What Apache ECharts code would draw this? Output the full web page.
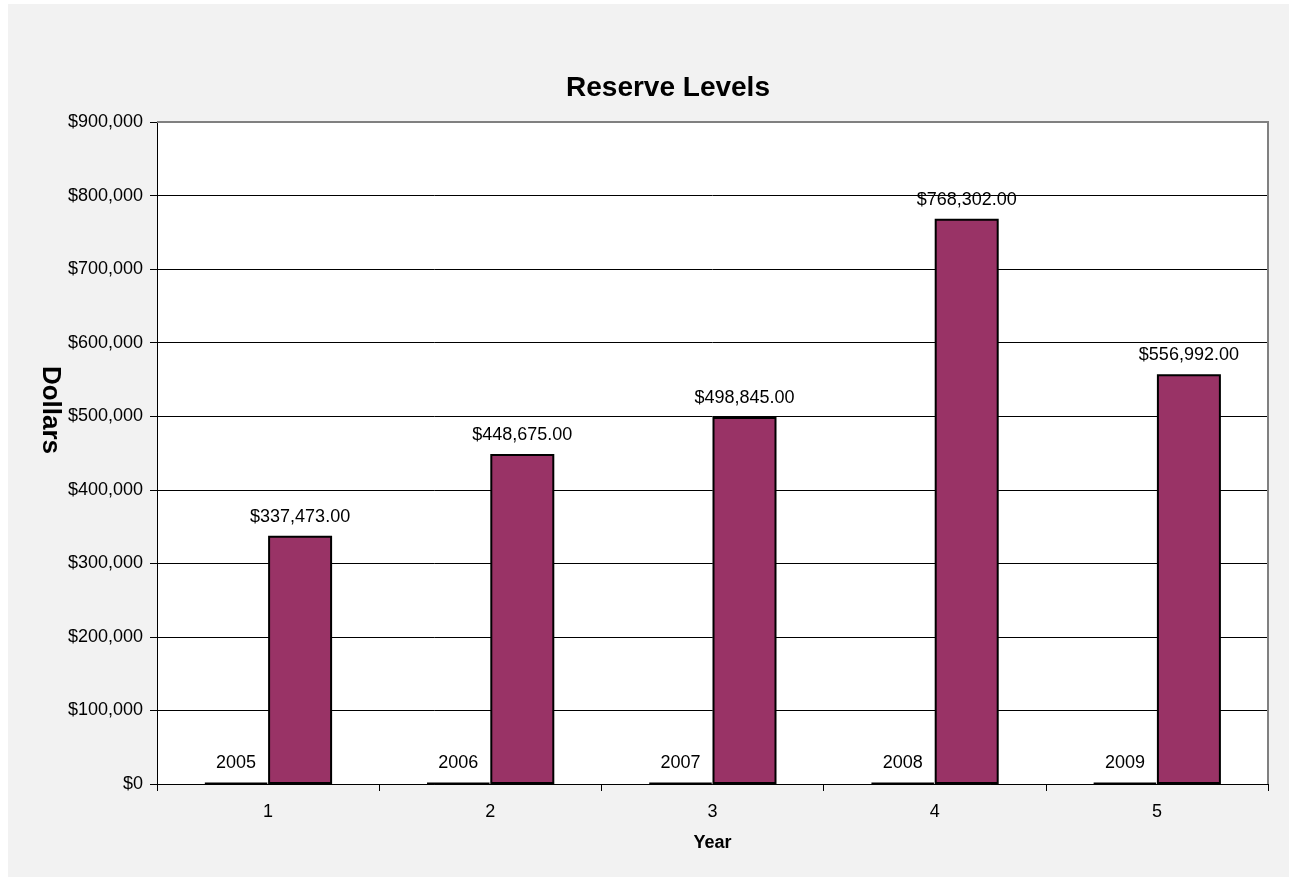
<!DOCTYPE html>
<html>
<head>
<meta charset="utf-8">
<script src="https://cdn.jsdelivr.net/npm/echarts@6/dist/echarts.min.js"></script>
<style>
    html, body { margin: 0; padding: 0; background: #ffffff; }
    #chart { width: 1289px; height: 877px; }
</style>
</head>
<body>
<div id="chart"></div>
<script>
// data
let categories = ['1', '2', '3', '4', '5'];
let yearValues = [2005, 2006, 2007, 2008, 2009];
let reserveValues = [337473, 448675, 498845, 768302, 556992];
let yTicks = [0, 100000, 200000, 300000, 400000, 500000, 600000, 700000, 800000, 900000];

function money(v) {
    return '$' + v.toString().replace(/\B(?=(\d{3})+(?!\d))/g, ',');
}

var dom = document.getElementById('chart');
var myChart = echarts.init(dom, null, { renderer: 'canvas' });

var font = 'Liberation Sans, Arial, sans-serif';

var option = {
    backgroundColor: '#ffffff',
    animation: false,
    textStyle: { fontFamily: font },
    graphic: [
        {
            type: 'rect',
            z: -10,
            shape: { x: 8, y: 4, width: 1281, height: 873 },
            style: { fill: '#f2f2f2' }
        },
        // plot frame, top + right (gray like the original)
        {
            type: 'polyline',
            z: 100,
            shape: { points: [[157, 122], [1268, 122], [1268, 784]] },
            style: { stroke: '#808080', lineWidth: 2, fill: null }
        },
        // y axis title, sits higher than the plot middle in the original
        {
            type: 'text',
            x: 50,
            y: 410,
            rotation: -Math.PI / 2,
            style: {
                text: 'Dollars',
                fontFamily: font,
                fontSize: 26,
                fontWeight: 'bold',
                fill: '#000',
                align: 'center',
                verticalAlign: 'middle'
            }
        }
    ],
    title: {
        text: 'Reserve Levels',
        left: 663,
        top: 69,
        textAlign: 'center',
        textStyle: { fontFamily: font, fontSize: 28, fontWeight: 'bold', color: '#000' }
    },
    grid: {
        left: 157,
        right: 21,
        top: 122,
        bottom: 93,
        show: true,
        backgroundColor: '#ffffff',
        borderWidth: 0
    },
    xAxis: {
        type: 'category',
        data: categories,
        name: 'Year',
        nameLocation: 'middle',
        nameGap: 50,
        nameTextStyle: { fontFamily: font, fontSize: 18, fontWeight: 'bold', color: '#000' },
        axisLine: { show: true, lineStyle: { color: '#000', width: 1 } },
        axisTick: { show: true, length: 7, lineStyle: { color: '#000' } },
        axisLabel: { fontFamily: font, fontSize: 18, color: '#000', margin: 19 },
        splitLine: { show: false }
    },
    yAxis: {
        type: 'value',
        min: 0,
        max: 900000,
        interval: 100000,
        axisLine: { show: true, lineStyle: { color: '#000', width: 1 } },
        axisTick: { show: true, inside: false, length: 7, lineStyle: { color: '#000' } },
        axisLabel: {
            fontFamily: font, fontSize: 18, color: '#000', margin: 14,
            formatter: function (v) { return yTicks.indexOf(v) >= 0 ? money(v) : ''; }
        },
        splitLine: { show: true, lineStyle: { color: '#000', width: 1 } }
    },
    series: [
        {
            name: 'Year',
            type: 'bar',
            data: yearValues,
            barWidth: 64,
            barGap: '0%',
            itemStyle: { color: '#000000', borderColor: '#000', borderWidth: 1.5 },
            label: {
                show: true,
                position: 'top',
                distance: 10,
                fontFamily: font,
                fontSize: 18,
                color: '#000'
            }
        },
        {
            name: 'Reserve',
            type: 'bar',
            data: reserveValues,
            barWidth: 64,
            barGap: '0%',
            itemStyle: { color: '#993366', borderColor: '#000', borderWidth: 2 },
            label: {
                show: true,
                position: 'top',
                distance: 10,
                fontFamily: font,
                fontSize: 18,
                color: '#000',
                formatter: function (p) { return money(p.value) + '.00'; }
            }
        }
    ]
};

myChart.setOption(option);
window.addEventListener('resize', myChart.resize);
</script>
</body>
</html>
